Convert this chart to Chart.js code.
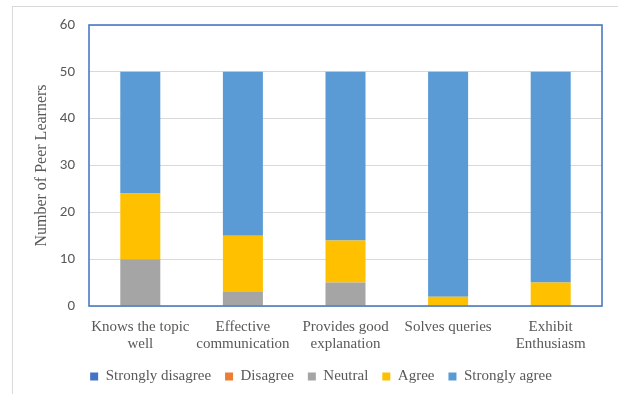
<!DOCTYPE html>
<html lang="en">
<head>
    <meta charset="UTF-8">
    <title>Peer Learners</title>
    <script src="https://cdn.jsdelivr.net/npm/chart.js"></script>
    <style>
        body { margin: 0; background: #fff; }
        #frame {
            position: absolute; left: 12px; top: 6px;
            width: 620px; height: 400px;
            border-left: 1px solid #d9d9d9; border-top: 1px solid #d9d9d9;
        }
        #wrap { position: absolute; left: 0; top: 0; width: 618px; height: 394px; }
    </style>
</head>
<body>
    <div id="frame"></div>
    <div id="wrap"><canvas id="grafico"></canvas></div>

    <script>
        // categorias e valores
        const categorias = [
            ['Knows the topic', 'well'],
            ['Effective', 'communication'],
            ['Provides good', 'explanation'],
            'Solves queries',
            ['Exhibit', 'Enthusiasm']
        ];
        const stronglyDisagree = [0, 0, 0, 0, 0];
        const disagree = [0, 0, 0, 0, 0];
        const neutral = [10, 3, 5, 0, 0];
        const agree = [14, 12, 9, 2, 5];
        const stronglyAgree = [26, 35, 36, 48, 45];
        const yTicks = [0, 10, 20, 30, 40, 50, 60];

        const serif = "'Liberation Serif', 'Times New Roman', serif";
        const sans = "Carlito, 'Liberation Sans', 'Open Sans', sans-serif";

        // borda azul da área do gráfico
        const bordaPlot = {
            id: 'bordaPlot',
            afterLayout(chart) {
                // legenda um pouco deslocada para a direita, como no original
                if (chart.legend) {
                    chart.legend.left += 20;
                    chart.legend.right += 20;
                }
            },
            afterDraw(chart) {
                const a = chart.chartArea;
                const ctx = chart.ctx;
                ctx.save();
                ctx.strokeStyle = '#4a7ac2';
                ctx.lineWidth = 1.6;
                ctx.strokeRect(a.left, a.top, a.right - a.left, a.bottom - a.top);
                ctx.restore();
            }
        };

        function conjunto(label, data, cor) {
            return {
                label: label,
                data: data,
                backgroundColor: cor,
                borderWidth: 0,
                barPercentage: 0.78,
                categoryPercentage: 0.5
            };
        }

        new Chart(document.getElementById('grafico'), {
            type: 'bar',
            data: {
                labels: categorias,
                datasets: [
                    conjunto('Strongly disagree', stronglyDisagree, '#4472c4'),
                    conjunto('Disagree', disagree, '#ed7d31'),
                    conjunto('Neutral', neutral, '#a5a5a5'),
                    conjunto('Agree', agree, '#ffc000'),
                    conjunto('Strongly agree', stronglyAgree, '#5b9bd5')
                ]
            },
            options: {
                responsive: true,
                maintainAspectRatio: false,
                animation: false,
                layout: { padding: { top: 25, right: 16, bottom: 0, left: 0 } },
                plugins: {
                    tooltip: { enabled: false },
                    legend: {
                        position: 'bottom',
                        labels: {
                            boxWidth: 8,
                            boxHeight: 8,
                            padding: 14,
                            color: '#595959',
                            font: { family: serif, size: 15 }
                        }
                    }
                },
                scales: {
                    x: {
                        stacked: true,
                        grid: { display: false },
                        border: { display: false },
                        ticks: {
                            color: '#595959',
                            maxRotation: 0,
                            autoSkip: false,
                            padding: 5,
                            font: { family: serif, size: 15, lineHeight: 1.1 }
                        },
                        afterFit(scale) { scale.height = 49; }
                    },
                    y: {
                        stacked: true,
                        min: 0,
                        max: 60,
                        afterBuildTicks(scale) { scale.ticks = yTicks.map(v => ({ value: v })); },
                        grid: { color: '#d9d9d9', drawTicks: false },
                        border: { display: false },
                        ticks: {
                            color: '#595959',
                            padding: 14,
                            font: { family: sans, size: 15 }
                        },
                        title: {
                            display: true,
                            text: 'Number of Peer Learners',
                            color: '#595959',
                            padding: { top: 32, bottom: 0 },
                            font: { family: serif, size: 16 }
                        },
                        afterFit(scale) { scale.width = 89; }
                    }
                }
            },
            plugins: [bordaPlot]
        });
    </script>
</body>
</html>
